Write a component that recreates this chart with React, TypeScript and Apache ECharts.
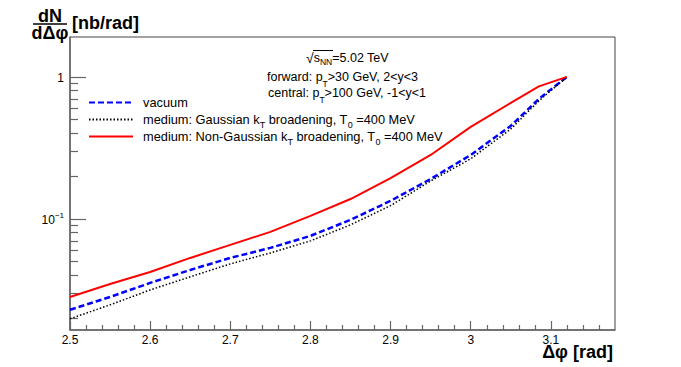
import React, { useEffect, useRef } from "react";
import * as echarts from "echarts";

const xValues = [2.5, 2.55, 2.6, 2.65, 2.7, 2.75, 2.8, 2.85, 2.9, 2.95, 3.0, 3.05, 3.085, 3.12];
const vacuum = [0.0229, 0.0282, 0.0354, 0.0437, 0.0531, 0.0625, 0.0759, 0.0984, 0.134, 0.191, 0.282, 0.452, 0.7, 1.0];
const gaussian = [0.0198, 0.0248, 0.0316, 0.0391, 0.0482, 0.0576, 0.07, 0.0908, 0.124, 0.185, 0.265, 0.43, 0.678, 1.0];
const nonGaussian = [0.0282, 0.0348, 0.0423, 0.0531, 0.0656, 0.081, 0.105, 0.138, 0.194, 0.282, 0.445, 0.656, 0.857, 1.0];

const xMajorTicks = [2.5, 2.6, 2.7, 2.8, 2.9, 3, 3.1];
const xMinorTicks = [2.52, 2.54, 2.56, 2.58, 2.62, 2.64, 2.66, 2.68, 2.72, 2.74, 2.76, 2.78, 2.82, 2.84, 2.86, 2.88, 2.92, 2.94, 2.96, 2.98, 3.02, 3.04, 3.06, 3.08, 3.12, 3.14, 3.16];
const yMajorTicks = [0.1, 1];
const yMinorTicks = [0.02, 0.03, 0.04, 0.05, 0.06, 0.07, 0.08, 0.09, 0.2, 0.3, 0.4, 0.5, 0.6, 0.7, 0.8, 0.9];

const seriesNames = [
  "vacuum",
  "medium: Gaussian kT broadening, T0 =400 MeV",
  "medium: Non-Gaussian kT broadening, T0 =400 MeV",
];
const legendLabels = [
  "{g| }{n|vacuum}{sub| }",
  "{g| }{n|medium: Gaussian k}{sub|T}{n| broadening, T}{sub|0}{n| =400 MeV}",
  "{g| }{n|medium: Non-Gaussian k}{sub|T}{n| broadening, T}{sub|0}{n| =400 MeV}",
];

const FONT = "Liberation Sans, Arial, Helvetica, sans-serif";
const AXIS_COLOR = "#666666";

export default function App() {
  const ref = useRef<HTMLDivElement>(null);
  useEffect(() => {
    if (!ref.current) return;
    const chart = echarts.init(ref.current, undefined, { renderer: "svg" });
    const mk = (ys: number[]) => xValues.map((x, i) => [x, ys[i]]);
    const legendRich = {
      g: { width: 5, fontSize: 12 },
      n: { fontSize: 12.8, lineHeight: 20, verticalAlign: "middle", fontFamily: FONT, color: "#000" },
      sub: { fontSize: 9, lineHeight: 20, verticalAlign: "bottom", fontFamily: FONT, color: "#000" },
    };
    const rowY = [103, 120, 137];
    const legends = seriesNames.map((name, i) => ({
      data: [name],
      left: 88,
      top: rowY[i] - 7,
      padding: 0,
      orient: "vertical",
      itemWidth: 44,
      itemHeight: 14,
      selectedMode: false,
      itemStyle: { opacity: 0 },
      formatter: () => legendLabels[i],
      textStyle: { rich: legendRich, fontFamily: FONT },
    }));
    const titleStyle = (text: string, align: string, size = 18) => ({
      text,
      fontSize: size,
      fontWeight: "bold",
      fontFamily: FONT,
      fill: "#000",
      lineHeight: 16,
      align,
      verticalAlign: "middle",
      textAlign: align,
      textVerticalAlign: "middle",
    });
    const option: any = {
      animation: false,
      backgroundColor: "#ffffff",
      textStyle: { fontFamily: FONT },
      grid: {
        left: 70,
        right: 66,
        top: 37,
        bottom: 37,
        show: true,
        borderColor: "#444",
        borderWidth: 1,
        backgroundColor: "transparent",
      },
      legend: legends,
      xAxis: [
        {
          type: "value",
          min: 2.5,
          max: 3.18,
          position: "bottom",
          axisLine: { show: true, lineStyle: { color: AXIS_COLOR, width: 1.5 } },
          axisTick: { show: true, inside: true, length: 9, customValues: xMajorTicks, lineStyle: { color: AXIS_COLOR, width: 1.2 } },
          axisLabel: {
            show: true,
            customValues: xMajorTicks,
            formatter: (v: number) => String(v),
            fontSize: 12,
            color: "#000",
            fontFamily: FONT,
            margin: 4,
          },
          splitLine: { show: false },
        },
        {
          type: "value",
          min: 2.5,
          max: 3.18,
          position: "bottom",
          axisLine: { show: false },
          axisTick: { show: true, inside: true, length: 5, customValues: xMinorTicks, lineStyle: { color: AXIS_COLOR, width: 1.2 } },
          axisLabel: { show: false },
          splitLine: { show: false },
        },
      ],
      yAxis: [
        {
          type: "log",
          logBase: 10,
          min: 0.0165,
          max: 1.91,
          position: "left",
          axisLine: { show: true, lineStyle: { color: AXIS_COLOR, width: 1.5 } },
          axisTick: { show: true, inside: true, length: 16, customValues: yMajorTicks, lineStyle: { color: AXIS_COLOR, width: 1.2 } },
          axisLabel: {
            show: true,
            customValues: yMajorTicks,
            margin: 6,
            fontFamily: FONT,
            color: "#000",
            formatter: (v: number) => (Math.abs(v - 1) < 1e-9 ? "{b|1}" : "{b|10}{s|−1}"),
            rich: {
              b: { fontSize: 12, lineHeight: 14, verticalAlign: "bottom", fontFamily: FONT, color: "#000" },
              s: { fontSize: 8, lineHeight: 14, verticalAlign: "top", fontFamily: FONT, color: "#000" },
            },
          },
          splitLine: { show: false },
        },
        {
          type: "log",
          logBase: 10,
          min: 0.0165,
          max: 1.91,
          position: "left",
          axisLine: { show: false },
          axisTick: { show: true, inside: true, length: 8, customValues: yMinorTicks, lineStyle: { color: AXIS_COLOR, width: 1.2 } },
          axisLabel: { show: false },
          splitLine: { show: false },
        },
      ],
      series: [
        {
          name: seriesNames[0],
          type: "line",
          data: mk(vacuum),
          symbol: "none",
          lineStyle: { color: "#0000ff", width: 2.5, type: [6, 3] },
          itemStyle: { color: "#0000ff" },
          z: 2,
        },
        {
          name: seriesNames[1],
          type: "line",
          data: mk(gaussian),
          symbol: "none",
          lineStyle: { color: "#000000", width: 1.5, type: [1.5, 2] },
          itemStyle: { color: "#000000" },
          z: 3,
        },
        {
          name: seriesNames[2],
          type: "line",
          data: mk(nonGaussian),
          symbol: "none",
          lineStyle: { color: "#ff0000", width: 2 },
          itemStyle: { color: "#ff0000" },
          z: 4,
        },
      ],
      graphic: [
        // y-axis title as a fraction
        { type: "text", x: 50, y: 16, style: titleStyle("dN", "center") },
        { type: "line", shape: { x1: 33, y1: 24, x2: 67, y2: 24 }, style: { stroke: "#000", lineWidth: 1.6 } },
        { type: "text", x: 50, y: 32.5, style: titleStyle("dΔφ", "center") },
        { type: "text", x: 72, y: 23, style: titleStyle("[nb/rad]", "left") },
        // x-axis title
        { type: "text", x: 613, y: 352, style: titleStyle("Δφ [rad]", "right") },
        // annotation
        {
          type: "text",
          x: 306,
          y: 58,
          style: {
            text: "{r|√}{s|s}{ss|NN}{n|=5.02 TeV}",
            align: "left",
            verticalAlign: "middle",
            textAlign: "left",
            textVerticalAlign: "middle",
            rich: {
              r: { fontSize: 14, lineHeight: 16, verticalAlign: "middle", fontFamily: FONT, fill: "#000", color: "#000" },
              s: { fontSize: 12.5, lineHeight: 16, verticalAlign: "middle", fontFamily: FONT, fill: "#000", color: "#000" },
              ss: { fontSize: 8.5, lineHeight: 16, verticalAlign: "bottom", fontFamily: FONT, fill: "#000", color: "#000" },
              n: { fontSize: 12.5, lineHeight: 16, verticalAlign: "middle", fontFamily: FONT, fill: "#000", color: "#000" },
            },
          },
        },
        { type: "line", shape: { x1: 313, y1: 50.5, x2: 333, y2: 50.5 }, style: { stroke: "#000", lineWidth: 1 } },
        {
          type: "text",
          x: 267,
          y: 77,
          style: {
            text: "{n|forward: p}{sub|T}{n|>30 GeV, 2<y<3}",
            align: "left",
            verticalAlign: "middle",
            textAlign: "left",
            textVerticalAlign: "middle",
            rich: {
              n: { fontSize: 12.5, lineHeight: 22, verticalAlign: "middle", fontFamily: FONT, fill: "#000", color: "#000" },
              sub: { fontSize: 8.5, lineHeight: 22, verticalAlign: "bottom", fontFamily: FONT, fill: "#000", color: "#000" },
            },
          },
        },
        {
          type: "text",
          x: 268,
          y: 93,
          style: {
            text: "{n|central: p}{sub|T}{n|>100 GeV, -1<y<1}",
            align: "left",
            verticalAlign: "middle",
            textAlign: "left",
            textVerticalAlign: "middle",
            rich: {
              n: { fontSize: 12.5, lineHeight: 22, verticalAlign: "middle", fontFamily: FONT, fill: "#000", color: "#000" },
              sub: { fontSize: 8.5, lineHeight: 22, verticalAlign: "bottom", fontFamily: FONT, fill: "#000", color: "#000" },
            },
          },
        },
      ],
    };
    chart.setOption(option);
    return () => chart.dispose();
  }, []);
  return <div ref={ref} style={{ width: 681, height: 367, position: "absolute", left: 0, top: 0, background: "#fff" }} />;
}
